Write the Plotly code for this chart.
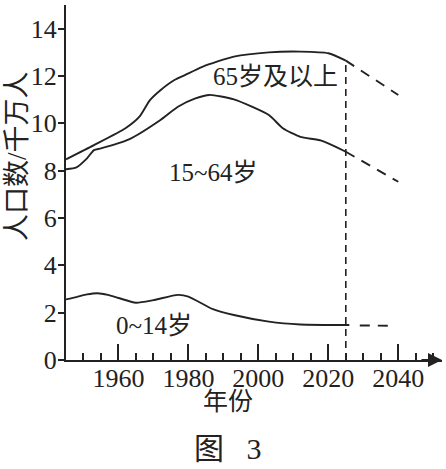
import plotly.graph_objects as go

# 0~14岁 (bottom curve)
years_young = [1945, 1948, 1951, 1954, 1957, 1960, 1965, 1970, 1977, 1980, 1987, 1993, 2003, 2012, 2026]
young = [2.56, 2.66, 2.77, 2.82, 2.75, 2.62, 2.42, 2.53, 2.75, 2.68, 2.15, 1.9, 1.62, 1.5, 1.48]
years_young_proj = [2029, 2037]
young_proj = [1.46, 1.45]

# 15~64岁 (cumulative, middle curve)
years_mid = [1945, 1948, 1951, 1953, 1955, 1963, 1972, 1977, 1982, 1986, 1993, 2003, 2007, 2012, 2018, 2025]
mid = [8.06, 8.14, 8.52, 8.87, 8.94, 9.32, 10.14, 10.7, 11.05, 11.2, 11.01, 10.35, 9.79, 9.43, 9.27, 8.8]
years_mid_proj = [2025, 2040]
mid_proj = [8.8, 7.53]

# 65岁及以上 (cumulative, top curve)
years_top = [1945, 1953, 1962, 1966, 1969, 1972, 1976, 1979, 1984, 1993, 2003, 2012, 2020, 2025]
top = [8.48, 9.08, 9.79, 10.28, 10.98, 11.4, 11.83, 12.04, 12.39, 12.82, 13.0, 13.03, 12.96, 12.65]
years_top_proj = [2025, 2040]
top_proj = [12.65, 11.2]

now_year = 2025
x_ticks = [1960, 1980, 2000, 2020, 2040]
y_ticks = [0, 2, 4, 6, 8, 10, 12, 14]

labels = ["65岁及以上", "15~64岁", "0~14岁"]
label_x = [2004.8, 1987.2, 1970.2]
label_y = [11.96, 7.94, 1.44]

ink = "#222222"
serif = "'Liberation Serif', serif"
mixed = "'Liberation Serif', 'Noto Sans CJK SC', serif"

fig = go.Figure()

def add_line(x, y, dash="solid", width=1.9):
    fig.add_trace(go.Scatter(
        x=x, y=y, mode="lines",
        line=dict(color=ink, width=width, dash=dash, shape="spline", smoothing=0.6),
        hoverinfo="skip", showlegend=False, cliponaxis=False
    ))

add_line(years_young, young)
add_line(years_young_proj, young_proj, dash="10px,8px")
add_line(years_mid, mid)
add_line(years_mid_proj, mid_proj, dash="10px,8px")
add_line(years_top, top)
add_line(years_top_proj, top_proj, dash="10px,8px")
add_line([now_year, now_year], [0, top[-1]], dash="7px,5px", width=1.6)

for t, x, y in zip(labels, label_x, label_y):
    fig.add_annotation(x=x, y=y, text=t, showarrow=False,
                       font=dict(family=mixed, size=25, color=ink))

# x axis arrow
fig.add_annotation(x=2052.5, y=0, ax=-22, ay=0, text="", showarrow=True,
                   arrowhead=2, arrowsize=1.4, arrowwidth=2, arrowcolor=ink)

fig.add_annotation(xref="paper", yref="paper", x=-0.13, y=0.575, text="人口数/千万人",
                   textangle=-90, showarrow=False, xanchor="center", yanchor="middle",
                   font=dict(family=mixed, size=27, color=ink))
fig.add_annotation(xref="paper", yref="paper", x=0.43, y=-0.118, text="年份",
                   showarrow=False, xanchor="center", yanchor="middle",
                   font=dict(family=mixed, size=25, color=ink))
fig.add_annotation(xref="paper", yref="paper", x=0.43, y=-0.248, text="图\u2002 3",
                   showarrow=False, xanchor="center", yanchor="middle",
                   font=dict(family=mixed, size=30, color=ink))

fig.update_layout(
    width=446, height=469,
    margin=dict(l=66, r=4, t=5, b=109, autoexpand=False),
    paper_bgcolor="white", plot_bgcolor="white",
    font=dict(family=serif, size=25, color=ink),
    xaxis=dict(
        range=[1945, 2052.5], showgrid=False, zeroline=False, automargin=False,
        showline=True, linecolor=ink, linewidth=2,
        tickvals=x_ticks, ticks="inside", ticklen=16, tickwidth=1.6, tickcolor=ink,
        minor=dict(dtick=5, tick0=1945, ticks="inside", ticklen=7, tickwidth=1.6, tickcolor=ink),
        tickfont=dict(family=serif, size=26, color=ink), ticklabelstandoff=-6,
    ),
    yaxis=dict(
        range=[0, 15], showgrid=False, zeroline=False, automargin=False,
        showline=True, linecolor=ink, linewidth=2,
        tickvals=y_ticks, ticks="outside", ticklen=6, tickwidth=1.6, tickcolor=ink,
        tickfont=dict(family=serif, size=26, color=ink), ticklabelstandoff=-4,
    ),
)

fig.write_html("out.html", config={"displayModeBar": False},
               post_script="document.body.style.margin='0';")
